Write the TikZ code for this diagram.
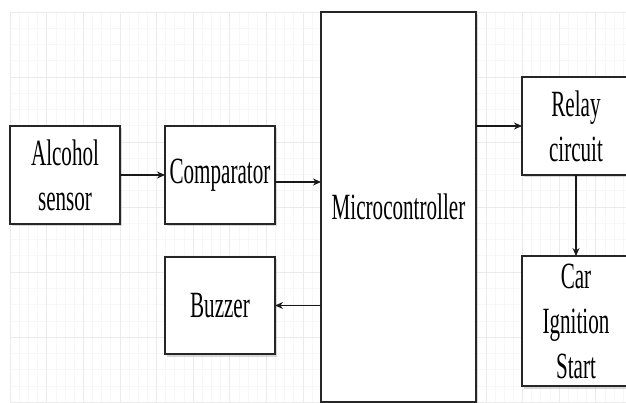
\documentclass[tikz,border=0pt]{standalone}
\usepackage{fontspec}
\setmainfont{Liberation Serif}[FakeStretch=0.57]
\usetikzlibrary{arrows.meta,positioning,shadows}

\begin{document}
\begin{tikzpicture}[
    x=1pt, y=-1pt,
    box/.style={
        rectangle,
        draw=black!85,
        line width=1.1pt,
        fill=white,
        inner sep=0pt,
        outer sep=0pt,
        align=center,
        drop shadow={opacity=0.3, shadow xshift=1.5pt, shadow yshift=-2.5pt},
        font=\fontsize{37}{45}\selectfont
    },
    arrow/.style={
        -{Stealth[length=8pt,width=7pt]},
        line width=1.2pt,
        black!90
    },
    minorline/.style={black!3, line width=0.5pt},
    majorline/.style={black!8, line width=0.6pt}
]
\useasboundingbox (0,0) rectangle (626,403);

% Grid paper
\fill[white] (0,0) rectangle (626,403);
\foreach \i in {0,...,67}
    \draw[minorline] (10+9.15*\i,12) -- (10+9.15*\i,402);
\foreach \j in {0,...,24}
    \draw[minorline] (10,12+16.25*\j) -- (626,12+16.25*\j);
\foreach \i in {0,...,16}
    \draw[majorline] (10+36.6*\i,12) -- (10+36.6*\i,402);
\foreach \j in {0,...,6}
    \draw[majorline] (10,12+65*\j) -- (626,12+65*\j);

% Alcohol sensor box
\node[box, minimum width=110pt, minimum height=98pt] (sensor) at (65,175) {Alcohol\\sensor};

% Comparator box
\node[box, minimum width=110pt, minimum height=98pt, right=45pt of sensor] (comp) {Comparator};

% Buzzer box
\node[box, minimum width=110pt, minimum height=97pt, below=33pt of comp] (buzzer) {Buzzer};

% Microcontroller box
\node[box, minimum width=155pt, minimum height=390pt] (micro) at (398.5,207) {Microcontroller};

% Relay circuit box
\node[box, minimum width=108pt, minimum height=98pt] (relay) at (576,126) {Relay\\circuit};

% Car ignition box
\node[box, minimum width=108pt, minimum height=130pt, below=81pt of relay] (car) {Car\\Ignition\\Start};

% Connections
\draw[arrow] (sensor) -- (comp);
\draw[arrow] ([yshift=-7pt]comp.east) -- ([yshift=-7pt]comp.east -| micro.west);
\draw[arrow] (micro.east |- relay.west) -- (relay.west);
\draw[arrow] (relay) -- (car);
\draw[arrow] (micro.west |- buzzer.east) -- (buzzer.east);

\end{tikzpicture}
\end{document}
